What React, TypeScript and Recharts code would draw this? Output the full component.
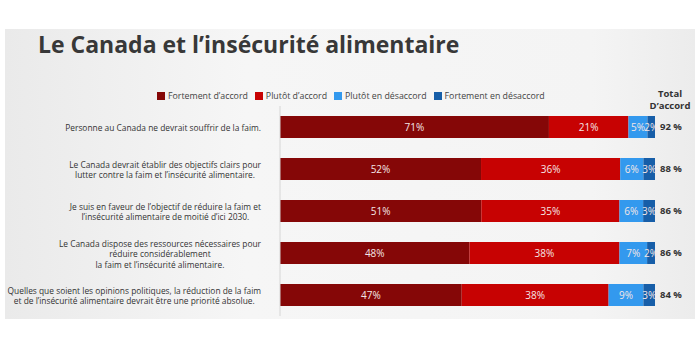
import React from "react";
import { BarChart, Bar, XAxis, YAxis, LabelList } from "recharts";

const categories = [
  "Personne au Canada ne devrait souffrir de la faim.",
  "Le Canada devrait établir des objectifs clairs pour\nlutter contre la faim et l’insécurité alimentaire.",
  "Je suis en faveur de l’objectif de réduire la faim et\nl’insécurité alimentaire de moitié d’ici 2030.",
  "Le Canada dispose des ressources nécessaires pour\nréduire considérablement\nla faim et l’insécurité alimentaire.",
  "Quelles que soient les opinions politiques, la réduction de la faim\net de l’insécurité alimentaire devrait être une priorité absolue.",
];
const fortementAccord = [71, 52, 51, 48, 47];
const plutotAccord = [21, 36, 35, 38, 38];
const plutotDesaccord = [5, 6, 6, 7, 9];
const fortementDesaccord = [2, 3, 3, 2, 3];
const totalAccord = [92, 88, 86, 86, 84];

const seriesNames = ["Fortement d’accord", "Plutôt d’accord", "Plutôt en désaccord", "Fortement en désaccord"];
const colors = ["#850707", "#c70202", "#3399ee", "#175ea8"];

const data = categories.map((c, i) => ({
  cat: c,
  fa: fortementAccord[i],
  pa: plutotAccord[i],
  pd: plutotDesaccord[i],
  fd: fortementDesaccord[i],
  total: totalAccord[i],
}));

const FONT = "'Open Sans', sans-serif";
const TICK_SIZE = 8.4;

let ctx: CanvasRenderingContext2D | null = null;
function measure(t: string): number {
  if (!ctx) {
    const c = document.createElement("canvas");
    ctx = c.getContext("2d");
  }
  if (!ctx) return t.length * TICK_SIZE * 0.48;
  ctx.font = `${TICK_SIZE}px 'Open Sans'`;
  return ctx.measureText(t).width;
}

const CatTick = (props: any) => {
  const { x, y, payload } = props;
  const lines = String(payload.value).split("\n");
  const w = Math.max(...lines.map(measure));
  const cx = x - 11 - w / 2;
  const lh = 10.5;
  const start = y - ((lines.length - 1) * lh) / 2;
  return (
    <text x={cx} y={start} textAnchor="middle" fontSize={TICK_SIZE} fill="#333" fontFamily={FONT} dominantBaseline="central">
      {lines.map((l, i) => (
        <tspan key={i} x={cx} y={start + i * lh}>
          {l}
        </tspan>
      ))}
    </text>
  );
};

const pct = (v: any) => `${v}%`;
const inLabel = { fill: "#f4e6e6", fontSize: 10, fontFamily: FONT };

export default function App() {
  return (
    <div style={{ position: "absolute", left: 0, top: 0, width: 700, height: 350, background: "#fff", overflow: "hidden" }}>
      <div
        style={{
          position: "absolute",
          left: 5,
          top: 29,
          width: 690,
          height: 290,
          background: "linear-gradient(to right, #eaeaea 0%, #f6f6f6 35%, #f4f4f4 85%, #ececec 100%)",
        }}
      />
      <div
        style={{
          position: "absolute",
          left: 38,
          top: 28,
          fontFamily: FONT,
          fontWeight: 700,
          fontSize: 23,
          color: "#383838",
          whiteSpace: "nowrap",
        }}
      >
        Le Canada et l’insécurité alimentaire
      </div>
      <div
        style={{
          position: "absolute",
          left: 157,
          top: 90,
          display: "flex",
          fontFamily: FONT,
          fontSize: 8.8,
          color: "#444",
          whiteSpace: "nowrap",
        }}
      >
        {seriesNames.map((n, i) => (
          <div key={i} style={{ display: "flex", alignItems: "center", marginRight: 7 }}>
            <span style={{ width: 8, height: 8, background: colors[i], display: "inline-block", marginRight: 3 }} />
            <span>{n}</span>
          </div>
        ))}
      </div>
      <div
        style={{
          position: "absolute",
          left: 645,
          top: 88,
          width: 50,
          textAlign: "center",
          fontFamily: FONT,
          fontWeight: 700,
          fontSize: 9.5,
          lineHeight: "12px",
          color: "#333",
        }}
      >
        Total
        <br />
        D’accord
      </div>
      <div style={{ position: "absolute", left: 0, top: 0 }}>
        <BarChart
          width={700}
          height={350}
          data={data}
          layout="vertical"
          stackOffset="expand"
          margin={{ top: 106, right: 45, bottom: 34, left: 0 }}
          barSize={22}
        >
          <XAxis type="number" hide domain={[0, 1]} />
          <YAxis
            type="category"
            dataKey="cat"
            width={280}
            tick={<CatTick />}
            tickLine={false}
            axisLine={{ stroke: "#d6d6d6" }}
            interval={0}
          />
          <Bar dataKey="fa" name={seriesNames[0]} stackId="a" fill={colors[0]} isAnimationActive={false}>
            <LabelList dataKey="fa" position="center" formatter={pct} style={inLabel} />
          </Bar>
          <Bar dataKey="pa" name={seriesNames[1]} stackId="a" fill={colors[1]} isAnimationActive={false}>
            <LabelList dataKey="pa" position="center" formatter={pct} style={inLabel} />
          </Bar>
          <Bar dataKey="pd" name={seriesNames[2]} stackId="a" fill={colors[2]} isAnimationActive={false}>
            <LabelList dataKey="pd" position="center" formatter={pct} style={inLabel} />
          </Bar>
          <Bar dataKey="fd" name={seriesNames[3]} stackId="a" fill={colors[3]} isAnimationActive={false}>
            <LabelList dataKey="fd" position="center" formatter={pct} style={inLabel} />
            <LabelList
              dataKey="total"
              position="right"
              offset={5}
              formatter={(v: any) => `${v} %`}
              style={{ fill: "#333", fontSize: 9.5, fontWeight: 700, fontFamily: FONT }}
            />
          </Bar>
        </BarChart>
      </div>
    </div>
  );
}
